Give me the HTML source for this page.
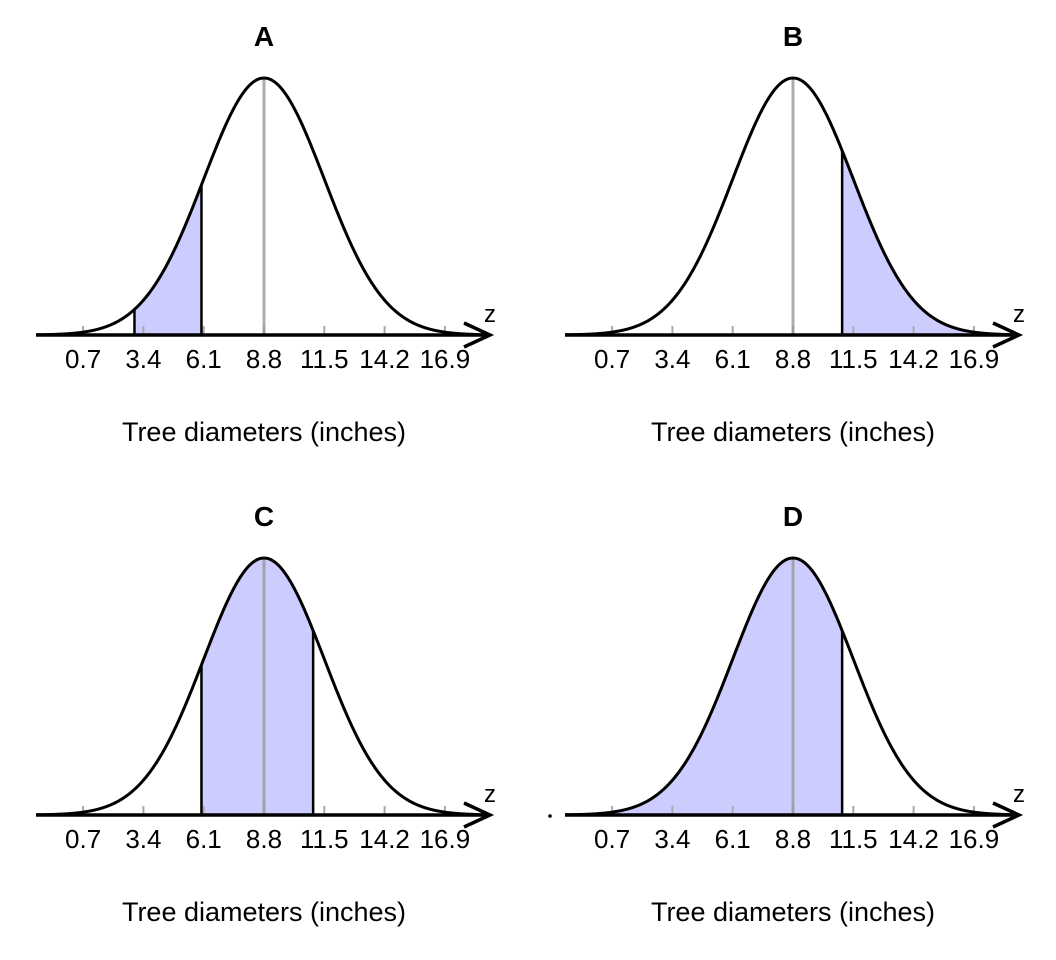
<!DOCTYPE html>
<html><head><meta charset="utf-8"><style>
body{margin:0;background:#fff}
svg{display:block;font-family:"Liberation Sans",Arial,sans-serif}
</style></head><body>
<svg id="c" width="1056" height="960" viewBox="0 0 1056 960"></svg>
<script>
const panelTitles=["A","B","C","D"];
const tickLabels=["0.7","3.4","6.1","8.8","11.5","14.2","16.9"];
const meanVal=8.8;
const sdVal=2.7;
const shadeLo=[3.0,11.0,6.0,-10];
const shadeHi=[6.0,30,11.0,11.0];
const NS="http://www.w3.org/2000/svg";
const svg=document.getElementById('c');
function mk(t,a,p){const e=document.createElementNS(NS,t);for(const k in a)e.setAttribute(k,a[k]);(p||svg).appendChild(e);return e;}
const offs=[[0,0],[529,0],[0,480],[529,480]];
const pxPerSd=60.3, baseY=335, peakH=257, cx0=264, axL=36, axR=490;
panelTitles.forEach((t,i)=>{
  const [ox,oy]=offs[i];
  const g=mk('g',{transform:`translate(${ox},${oy})`});
  
  
  const X=v=>cx0+(v-meanVal)/sdVal*pxPerSd;
  const Y=v=>{const z=(v-meanVal)/sdVal;return baseY-peakH*Math.exp(-z*z/2);};
  const vmin=meanVal+(axL-cx0)/pxPerSd*sdVal, vmax=meanVal+(axR-4-cx0)/pxPerSd*sdVal;
  const lo=Math.max(shadeLo[i],vmin), hi=Math.min(shadeHi[i],vmax);
  let d=`M${X(lo)},${baseY}`;
  for(let k=0;k<=200;k++){const v=lo+(hi-lo)*k/200;d+=`L${X(v)},${Y(v)}`;}
  d+=`L${X(hi)},${baseY}Z`;
  const sh=mk('path',{d,fill:'#ccccff',stroke:'none'},g);
  
  
  tickLabels.forEach(l=>{
    const x=X(parseFloat(l));
    const tk=mk('line',{x1:x,x2:x,y1:baseY-9,y2:baseY,stroke:'#aaa','stroke-width':2},g);
    
    
    const tl=mk('text',{x:x,y:baseY+33,'text-anchor':'middle','font-size':26},g);
    tl.textContent=l;
    
    
  });
  const cl=mk('line',{x1:X(meanVal),x2:X(meanVal),y1:baseY,y2:baseY-peakH,stroke:'#999','stroke-opacity':0.8,'stroke-width':3},g);
  
  
  [shadeLo[i],shadeHi[i]].forEach(v=>{
    if(v>vmin&&v<vmax){
      const bl=mk('line',{x1:X(v),x2:X(v),y1:baseY,y2:Y(v),stroke:'#000','stroke-width':2.5},g);
      
      
    }
  });
  let cd='';
  for(let k=0;k<=300;k++){const v=vmin+(vmax-vmin)*k/300;cd+=(k?'L':'M')+X(v)+','+Y(v);}
  const cv=mk('path',{d:cd,fill:'none',stroke:'#000','stroke-width':3},g);
  
  
  const ax=mk('path',{d:`M${axL},${baseY}L${axR},${baseY}M${axR-26},${baseY-12}L${axR},${baseY}L${axR-26},${baseY+12}`,fill:'none',stroke:'#000','stroke-width':3.5},g);
  
  
  const z=mk('text',{x:axR,y:baseY-13,'text-anchor':'middle','font-size':24},g);
  z.textContent='z';
  
  
  const tt=mk('text',{x:cx0,y:46,'text-anchor':'middle','font-size':28,'font-weight':'bold'},g);
  tt.textContent=t;
  
  
  const at=mk('text',{x:cx0,y:441,'text-anchor':'middle','font-size':27},g);
  at.textContent='Tree diameters (inches)';
  
  
});
const dot=mk('circle',{cx:550,cy:816,r:1.8,fill:'#000'});


</script>
</body></html>
